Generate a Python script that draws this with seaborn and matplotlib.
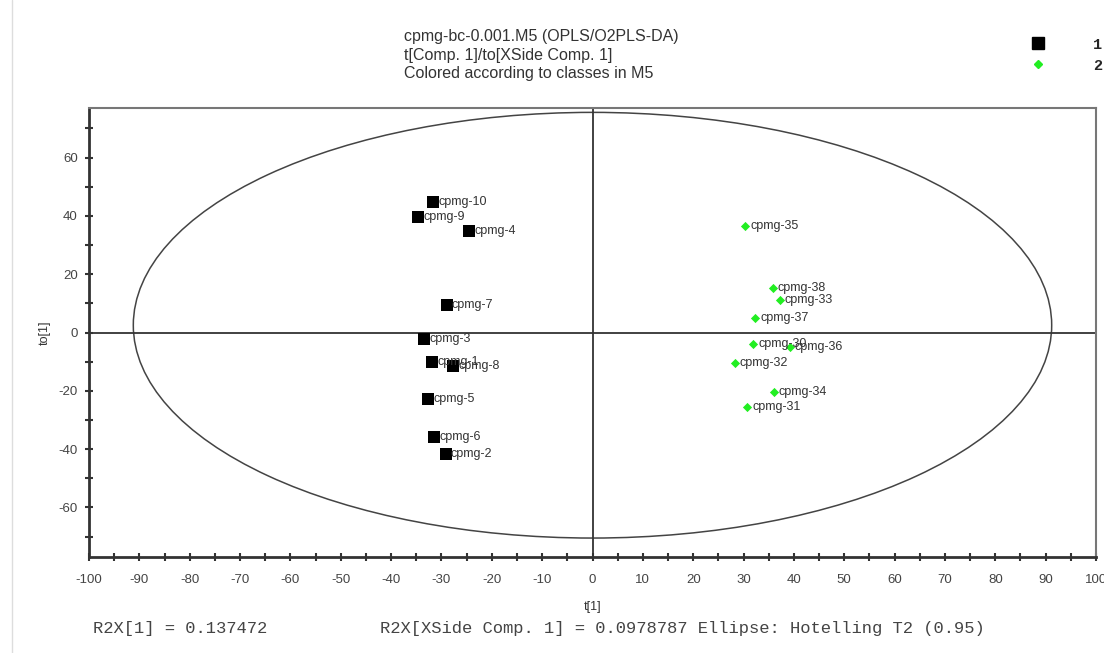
import numpy as np
import pandas as pd
import seaborn as sns
import matplotlib.pyplot as plt
from matplotlib.patches import Ellipse
from matplotlib.lines import Line2D
from matplotlib.ticker import MultipleLocator

# score values: t[1] (x) and to[1] (y)
labels_1 = ['cpmg-10', 'cpmg-9', 'cpmg-4', 'cpmg-7', 'cpmg-3',
            'cpmg-1', 'cpmg-8', 'cpmg-5', 'cpmg-6', 'cpmg-2']
t1_class1 = [-31.6, -34.6, -24.5, -28.9, -33.4, -31.8, -27.7, -32.6, -31.4, -29.1]
to1_class1 = [44.6, 39.6, 34.7, 9.6, -2.2, -10.2, -11.5, -22.8, -35.8, -41.8]

labels_2 = ['cpmg-35', 'cpmg-38', 'cpmg-33', 'cpmg-37', 'cpmg-30',
            'cpmg-36', 'cpmg-32', 'cpmg-34', 'cpmg-31']
t1_class2 = [30.3, 35.8, 37.2, 32.3, 31.9, 39.2, 28.3, 36.0, 30.7]
to1_class2 = [36.6, 15.3, 11.3, 5.0, -3.9, -5.0, -10.4, -20.4, -25.6]

# Hotelling T2 (0.95) ellipse
ell_center = (0, 2.5)
ell_semi_t1 = 91.2
ell_semi_to1 = 73.0

df = pd.DataFrame({
    'Label': labels_1 + labels_2,
    't1': t1_class1 + t1_class2,
    'to1': to1_class1 + to1_class2,
    'Class': ['1'] * len(labels_1) + ['2'] * len(labels_2),
})

palette = {'1': '#000000', '2': '#22ee22'}
markers = {'1': 's', '2': 'D'}
sizes = {'1': 70, '2': 22}

sns.set_style('white')
plt.rcParams['font.family'] = ['Liberation Sans', 'DejaVu Sans']
plt.rcParams['axes.unicode_minus'] = False

fig = plt.figure(figsize=(11.04, 6.53), dpi=100)
ax = fig.add_axes([89 / 1104, 96 / 653, 1007 / 1104, 449 / 653])

# ellipse and zero lines
ax.add_patch(Ellipse(ell_center, 2 * ell_semi_t1, 2 * ell_semi_to1,
                     fill=False, edgecolor='#444444', linewidth=1.1, zorder=1))
ax.axhline(0, color='#333333', linewidth=1.3, zorder=1)
ax.axvline(0, color='#333333', linewidth=1.3, zorder=1)

for cls, grp in df.groupby('Class'):
    sns.scatterplot(data=grp, x='t1', y='to1', color=palette[cls],
                    marker=markers[cls], s=sizes[cls], linewidth=0,
                    ax=ax, zorder=3, legend=False)

for _, row in df.iterrows():
    ax.annotate(row['Label'], (row['t1'], row['to1']),
                xytext=(5, 0), textcoords='offset pixels',
                va='center', ha='left', fontsize=9, color='#333333', zorder=4)

ax.set_xlim(-100, 100)
ax.set_ylim(-77, 77)
ax.xaxis.set_major_locator(MultipleLocator(10))
ax.xaxis.set_minor_locator(MultipleLocator(5))
ax.yaxis.set_major_locator(MultipleLocator(20))
ax.yaxis.set_minor_locator(MultipleLocator(10))
ax.tick_params(axis='both', which='both', direction='inout', length=6, width=1.5,
               color='#333333', labelsize=9.5, labelcolor='#444444')
ax.tick_params(axis='x', which='major', pad=9)
ax.tick_params(axis='y', which='major', pad=5)
ax.tick_params(axis='both', which='both', bottom=True, left=True)
for side in ['left', 'bottom']:
    ax.spines[side].set_color('#333333')
    ax.spines[side].set_linewidth(2)
for side in ['top', 'right']:
    ax.spines[side].set_color('#777777')
    ax.spines[side].set_linewidth(1.5)

ax.set_xlabel('t[1]', fontsize=9, color='#333333', labelpad=11)
ax.set_ylabel('to[1]', fontsize=9, color='#333333', labelpad=6)

# header
fig.text(404 / 1104, 1 - 29 / 653,
         'cpmg-bc-0.001.M5 (OPLS/O2PLS-DA)\nt[Comp. 1]/to[XSide Comp. 1]\nColored according to classes in M5',
         ha='left', va='top', fontsize=11.5, color='#333333', linespacing=1.3)

# class legend at top right
handles = [Line2D([], [], linestyle='none', marker=markers[c], color=palette[c],
                  markersize=8 if c == '1' else 4.5) for c in ['1', '2']]
fig.legend(handles, ['1', '2'], loc='upper left', bbox_to_anchor=(1009 / 1104, 1 - 24 / 653),
           frameon=False, handletextpad=2.6, labelspacing=0.45,
           prop={'family': 'Liberation Mono', 'weight': 'bold', 'size': 11})

# footer text
fig.text(93 / 1104, 1 - 628 / 653, 'R2X[1] = 0.137472', ha='left', va='center',
         fontsize=12.3, family='Liberation Mono', color='#444444')
fig.text(380 / 1104, 1 - 628 / 653,
         'R2X[XSide Comp. 1] = 0.0978787 Ellipse: Hotelling T2 (0.95)',
         ha='left', va='center', fontsize=12.3, family='Liberation Mono', color='#444444')

# thin frame line at the left edge
fig.add_artist(Line2D([12 / 1104, 12 / 1104], [0, 1], transform=fig.transFigure,
                      color='#dddddd', linewidth=1))

fig.savefig('out.png', dpi=100)
